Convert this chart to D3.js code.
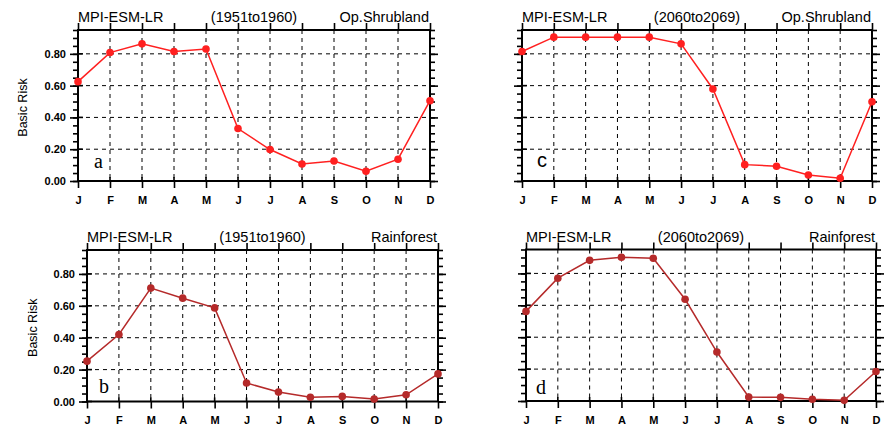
<!DOCTYPE html>
<html>
<head>
<meta charset="utf-8">
<script src="https://cdn.jsdelivr.net/npm/d3@7"></script>
<style>
  body { margin: 0; background: #fff; }
  text { font-family: "Liberation Sans", Arial, sans-serif; }
</style>
</head>
<body>
<div id="chart"></div>
<script>
// data
const months = ["J", "F", "M", "A", "M", "J", "J", "A", "S", "O", "N", "D"];
const yTicks = [0, 0.2, 0.4, 0.6, 0.8];
const shrub1951 = [0.625, 0.808, 0.863, 0.815, 0.83, 0.33, 0.198, 0.107, 0.126, 0.061, 0.137, 0.505];
const shrub2060 = [0.815, 0.905, 0.905, 0.905, 0.905, 0.863, 0.579, 0.103, 0.093, 0.038, 0.017, 0.499];
const rain1951 = [0.253, 0.42, 0.711, 0.648, 0.587, 0.116, 0.059, 0.027, 0.032, 0.015, 0.042, 0.173];
const rain2060 = [0.562, 0.77, 0.882, 0.901, 0.895, 0.638, 0.307, 0.025, 0.023, 0.011, 0.004, 0.185];
const model = "MPI-ESM-LR";
const yLabel = "Basic Risk";

const W = 887, H = 426;
const svg = d3.select("#chart").append("svg").attr("width", W).attr("height", H);

// panel layout
const panels = [
    {x0: 78, x1: 430, y0: 30, y1: 181, values: shrub1951, color: "#ff2020", period: "(1951to1960)", biome: "Op.Shrubland",
     showY: true, yLabX: 23, letter: "a", lx: 94, ly: 168, lfont: "Liberation Serif"},
    {x0: 522, x1: 872, y0: 30, y1: 181, values: shrub2060, color: "#ff2020", period: "(2060to2069)", biome: "Op.Shrubland",
     showY: false, letter: "c", lx: 537, ly: 167, lfont: "Liberation Sans"},
    {x0: 87, x1: 438, y0: 250, y1: 401.5, values: rain1951, color: "#b52a2a", period: "(1951to1960)", biome: "Rainforest",
     showY: true, yLabX: 33, letter: "b", lx: 99, ly: 393, lfont: "Liberation Serif"},
    {x0: 526, x1: 876, y0: 249.5, y1: 401, values: rain2060, color: "#b52a2a", period: "(2060to2069)", biome: "Rainforest",
     showY: false, letter: "d", lx: 536, ly: 394, lfont: "Liberation Serif"}
];

drawPanel = (p) => {
    let g = svg.append("g");
    let x = d3.scalePoint().domain(d3.range(12)).range([p.x0, p.x1]);
    let y = d3.scaleLinear().domain([0, 0.95]).range([p.y1, p.y0]);

    // grid
    g.append("g").selectAll("line").data(d3.range(1, 11)).enter().append("line")
        .attr("x1", d => x(d)).attr("x2", d => x(d)).attr("y1", p.y0).attr("y2", p.y1)
        .attr("stroke", "#000").attr("stroke-width", 1).attr("stroke-dasharray", "4,4");
    g.append("g").selectAll("line").data(yTicks.slice(1)).enter().append("line")
        .attr("x1", p.x0).attr("x2", p.x1).attr("y1", d => y(d)).attr("y2", d => y(d))
        .attr("stroke", "#000").attr("stroke-width", 1).attr("stroke-dasharray", "4,4");

    // axes
    let minor = d3.range(0, 0.951, 0.05);
    g.append("g").attr("transform", "translate(" + p.x0 + ",0)")
        .call(d3.axisLeft(y).tickValues(minor).tickSize(5).tickFormat(""));
    g.append("g").attr("transform", "translate(" + p.x1 + ",0)")
        .call(d3.axisRight(y).tickValues(minor).tickSize(5).tickFormat(""));
    g.append("g").attr("transform", "translate(" + p.x0 + ",0)")
        .call(d3.axisLeft(y).tickValues(yTicks).tickSizeInner(8).tickSizeOuter(0).tickPadding(4)
            .tickFormat(p.showY ? d3.format(".2f") : ""));
    g.append("g").attr("transform", "translate(" + p.x1 + ",0)")
        .call(d3.axisRight(y).tickValues(yTicks).tickSizeInner(8).tickSizeOuter(0).tickFormat(""));
    g.append("g").attr("transform", "translate(0," + p.y1 + ")")
        .call(d3.axisBottom(x).tickSizeInner(7).tickSizeOuter(0).tickPadding(8).tickFormat(i => months[i]));
    g.append("g").attr("transform", "translate(0," + p.y0 + ")")
        .call(d3.axisTop(x).tickSizeInner(7).tickSizeOuter(0).tickFormat(""));
    g.selectAll(".domain").remove();
    g.selectAll(".tick line").attr("stroke", "#000").attr("stroke-width", 1.6);
    g.selectAll(".tick text").attr("fill", "#000").attr("font-size", 11).attr("font-weight", "bold")
        .attr("font-family", "Liberation Sans, Arial, sans-serif");

    // inward stubs of major ticks
    g.append("g").selectAll("line").data(yTicks).enter().append("line")
        .attr("x1", p.x0).attr("x2", p.x0 + 5).attr("y1", d => y(d)).attr("y2", d => y(d))
        .attr("stroke", "#000").attr("stroke-width", 1.6);
    g.append("g").selectAll("line").data(d3.range(12)).enter().append("line")
        .attr("x1", d => x(d)).attr("x2", d => x(d)).attr("y1", p.y1).attr("y2", p.y1 - 4)
        .attr("stroke", "#000").attr("stroke-width", 1.6);

    // frame
    g.append("rect").attr("x", p.x0).attr("y", p.y0).attr("width", p.x1 - p.x0).attr("height", p.y1 - p.y0)
        .attr("fill", "none").attr("stroke", "#000").attr("stroke-width", 2);

    // series
    let line = d3.line().x((d, i) => x(i)).y(d => y(d));
    g.append("path").datum(p.values).attr("d", line)
        .attr("fill", "none").attr("stroke", p.color).attr("stroke-width", 1.5);
    g.append("g").selectAll("circle").data(p.values).enter().append("circle")
        .attr("cx", (d, i) => x(i)).attr("cy", d => y(d)).attr("r", 3.8).attr("fill", p.color);

    // titles
    let ty = p.y0 - 8;
    g.append("text").attr("x", p.x0).attr("y", ty).attr("font-size", 14.5).text(model);
    g.append("text").attr("x", (p.x0 + p.x1) / 2).attr("y", ty).attr("font-size", 14.5)
        .attr("text-anchor", "middle").text(p.period);
    g.append("text").attr("x", p.x1 - 1).attr("y", ty).attr("font-size", 14.5)
        .attr("text-anchor", "end").text(p.biome);

    if (p.showY) {
        let cy = (p.y0 + p.y1) / 2 + 2;
        g.append("text").attr("transform", "translate(" + (p.yLabX + 4) + "," + cy + ") rotate(-90)")
            .attr("text-anchor", "middle").attr("font-size", 12.5).text(yLabel);
    }

    g.append("text").attr("x", p.lx).attr("y", p.ly).attr("font-size", 20)
        .style("font-family", p.lfont).text(p.letter);
}

panels.forEach(drawPanel);
</script>
</body>
</html>
